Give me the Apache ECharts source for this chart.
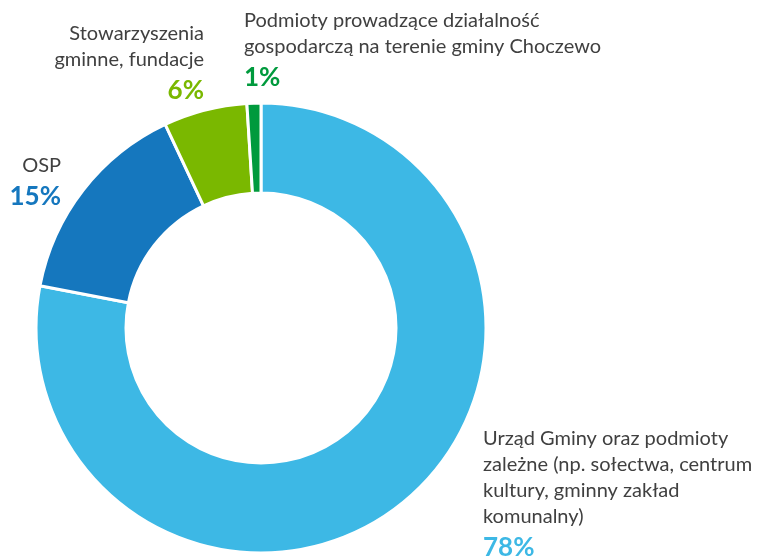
<!DOCTYPE html>
<html>
<head>
<meta charset="utf-8">
<script src="https://cdn.jsdelivr.net/npm/echarts@6/dist/echarts.min.js"></script>
<style>
  html, body { margin: 0; padding: 0; background: #fff; }
  #chart { width: 761px; height: 556px; }
</style>
</head>
<body>
<div id="chart"></div>
<script>
// data
var categories = [
  'Urząd Gminy oraz podmioty\nzależne (np. sołectwa, centrum\nkultury, gminny zakład\nkomunalny)',
  'OSP',
  'Stowarzyszenia\ngminne, fundacje',
  'Podmioty prowadzące działalność\ngospodarczą na terenie gminy Choczewo'
];
var values = [78, 15, 6, 1];
var colors = ['#3db8e5', '#1577be', '#7ab800', '#009a3d'];

// label anchor per slice (x, y, align)
var labelPos = [
  { x: 483, y: 426, align: 'left' },
  { x: 61, y: 153, align: 'right' },
  { x: 204, y: 21, align: 'right' },
  { x: 244, y: 8, align: 'left' }
];

var dom = document.getElementById('chart');
var myChart = echarts.init(dom);

var seriesData = categories.map(function (name, i) {
  return {
    name: name,
    value: values[i],
    itemStyle: { color: colors[i] },
    label: {
      rich: {
        name: { fontSize: 20, lineHeight: 26, color: '#404040', fontFamily: 'Lato', align: labelPos[i].align },
        pct: { fontSize: 26, lineHeight: 36, fontWeight: 'bold', color: colors[i], fontFamily: 'Lato', align: labelPos[i].align }
      }
    }
  };
});

var option = {
  animation: false,
  series: [{
    type: 'pie',
    center: [261, 328],
    radius: [135, 225],
    startAngle: 90,
    clockwise: true,
    avoidLabelOverlap: false,
    itemStyle: {
      borderColor: '#fff',
      borderWidth: 3
    },
    label: {
      show: true,
      position: 'outside',
      alignTo: 'none',
      overflow: 'none',
      width: 600,
      formatter: function (p) {
        return '{name|' + p.name.split('\n').join('}\n{name|') + '}\n{pct|' + p.value + '%}';
      }
    },
    labelLine: { show: false },
    labelLayout: function (params) {
      var pos = labelPos[params.dataIndex];
      return {
        x: pos.x,
        y: pos.y,
        align: pos.align,
        verticalAlign: 'top',
        hideOverlap: false,
        moveOverlap: null
      };
    },
    data: seriesData
  }]
};

myChart.setOption(option, true);
window.addEventListener('resize', function () {
  myChart.resize();
});
</script>
</body>
</html>
